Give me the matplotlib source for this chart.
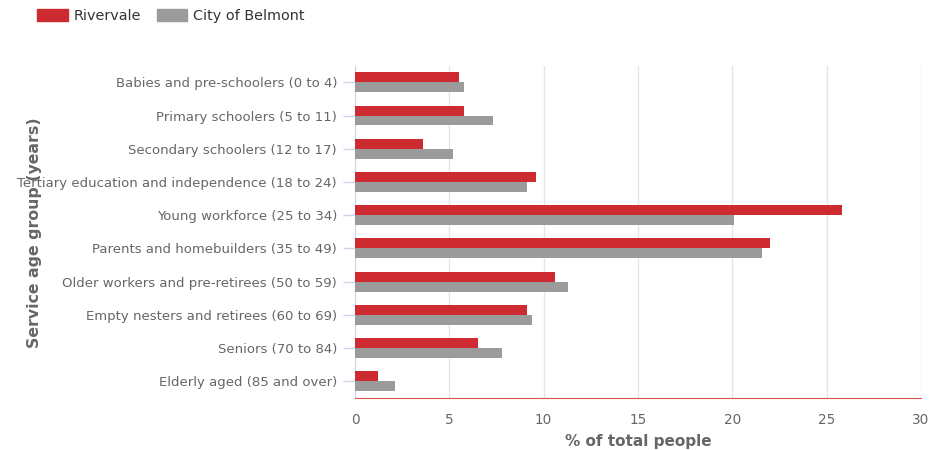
import numpy as np
import matplotlib.pyplot as plt
from matplotlib.patches import Patch

# service age groups, top to bottom
groups = [
    "Babies and pre-schoolers (0 to 4)",
    "Primary schoolers (5 to 11)",
    "Secondary schoolers (12 to 17)",
    "Tertiary education and independence (18 to 24)",
    "Young workforce (25 to 34)",
    "Parents and homebuilders (35 to 49)",
    "Older workers and pre-retirees (50 to 59)",
    "Empty nesters and retirees (60 to 69)",
    "Seniors (70 to 84)",
    "Elderly aged (85 and over)",
]
rivervale = [5.5, 5.8, 3.6, 9.6, 25.8, 22.0, 10.6, 9.1, 6.5, 1.2]
belmont = [5.8, 7.3, 5.2, 9.1, 20.1, 21.6, 11.3, 9.4, 7.8, 2.1]
x_ticks = [0, 5, 10, 15, 20, 25, 30]

red = "#cd2a31"
grey = "#9b9b9b"
text_col = "#666666"

fig = plt.figure(figsize=(9.32, 4.5), dpi=100)
ax = fig.add_axes([0.381, 0.116, 0.607, 0.738])

y = np.arange(len(groups))
h = 0.30
ax.barh(y - h / 2, rivervale, height=h, color=red, zorder=3)
ax.barh(y + h / 2, belmont, height=h, color=grey, zorder=3)

ax.set_ylim(len(groups) - 0.5, -0.5)
ax.set_xlim(0, 30)
ax.set_xticks(x_ticks)
ax.set_yticks(y)
ax.set_yticklabels(groups)

ax.grid(axis="x", color="#e6e6e6", linewidth=1, zorder=0)
ax.tick_params(axis="x", length=0, labelsize=9.8, colors=text_col, pad=11)
ax.tick_params(axis="y", length=9, width=1, color="#ccd6eb", labelsize=9.5,
               labelcolor=text_col, pad=4)

for s in ("top", "right"):
    ax.spines[s].set_visible(False)
ax.spines["left"].set_color("#ccd6eb")
ax.spines["bottom"].set_color("#d9534f")

ax.set_xlabel("% of total people", fontsize=11, fontweight="bold",
              color=text_col, labelpad=5)
fig.text(0.037, 0.482, "Service age group (years)", rotation=90,
         fontsize=11.3, fontweight="bold", color=text_col,
         ha="center", va="center")

handles = [Patch(color=red, label="Rivervale"),
           Patch(color=grey, label="City of Belmont")]
fig.legend(handles=handles, loc="upper left", bbox_to_anchor=(0.026, 1.008),
           ncol=2, frameon=False, fontsize=10.4, handlelength=2.1,
           handleheight=0.9, handletextpad=0.4, columnspacing=1.1,
           labelcolor="#333333")

fig.savefig("out.png", dpi=100)
